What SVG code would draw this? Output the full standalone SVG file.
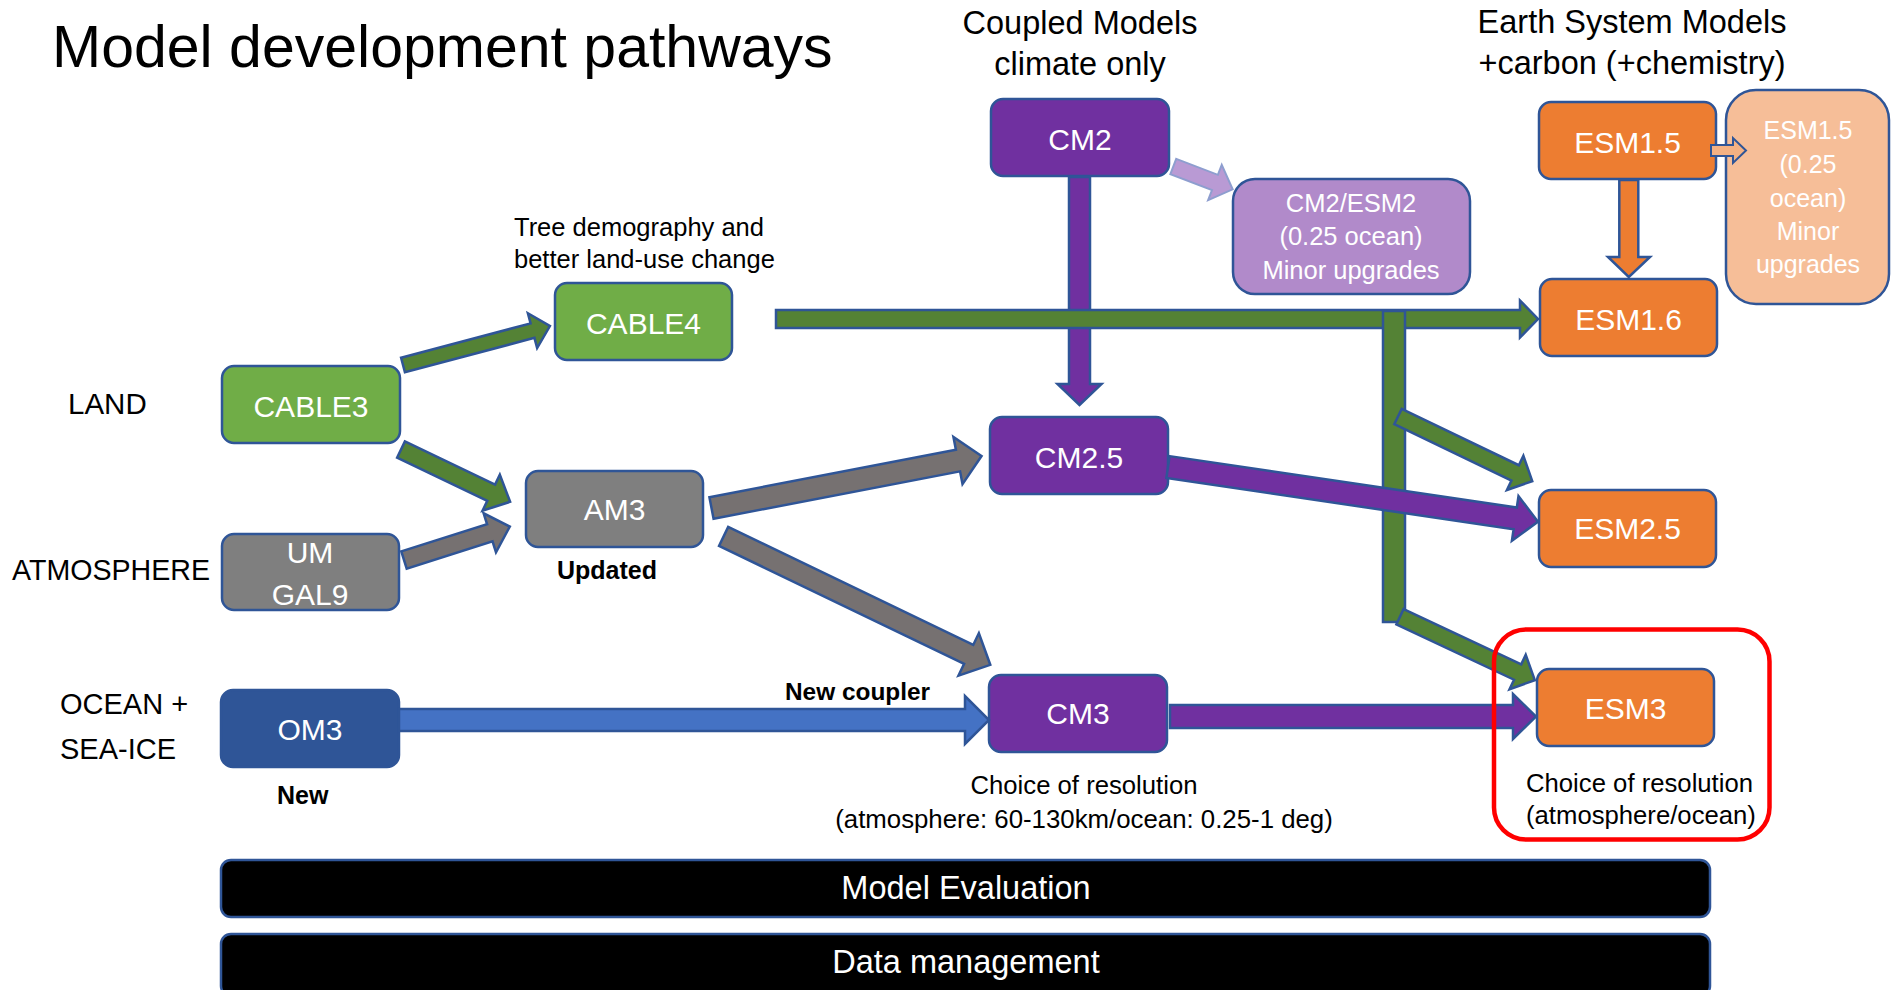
<svg xmlns="http://www.w3.org/2000/svg" width="1891" height="990" viewBox="0 0 1891 990">
<style>
text{font-family:"Liberation Sans",Arial,sans-serif}
.box{stroke:#2F5597;stroke-width:2.5}
.g{fill:#70AD47}.gr{fill:#7F7F7F}.pu{fill:#7030A0}.or{fill:#ED7D31}.bl{fill:#2F5597}
.lp{fill:#B18ACA}.lo{fill:#F6BE98}.bk{fill:#000}
.nt{fill:#fff;font-size:30px;text-anchor:middle}
.st{fill:#fff;font-size:25.5px;text-anchor:middle}
.lab{fill:#000;font-size:29px}
.sm{fill:#000;font-size:25.7px}
.b{font-weight:bold;fill:#000;font-size:25px}
.hd{fill:#000;font-size:32.5px;text-anchor:middle}
.ar{stroke:#2F5597;stroke-width:2.5;stroke-linejoin:miter}
.ag{fill:#548235}.agr{fill:#767171}.apu{fill:#7030A0}.abl{fill:#4472C4}.aor{fill:#ED7D31}
</style>
<rect width="1891" height="990" fill="#fff"/>
<text x="52" y="67" font-size="59" fill="#000">Model development pathways</text>
<text class="hd" x="1080" y="34">Coupled Models</text>
<text class="hd" x="1080" y="75">climate only</text>
<text class="hd" x="1632" y="33">Earth System Models</text>
<text class="hd" x="1632" y="74">+carbon (+chemistry)</text>
<text class="sm" x="514" y="236" style="font-size:25.5px">Tree demography and</text>
<text class="sm" x="514" y="268" style="font-size:25.5px">better land-use change</text>
<text class="lab" x="68" y="414" style="font-size:29.5px">LAND</text>
<text class="lab" x="12" y="580" style="font-size:28.6px">ATMOSPHERE</text>
<text class="lab" x="60" y="714">OCEAN +</text>
<text class="lab" x="60" y="759">SEA-ICE</text>
<text class="b" x="557" y="579">Updated</text>
<text class="b" x="277" y="804">New</text>
<text class="b" x="785" y="700" style="font-size:24.4px">New coupler</text>
<text class="sm" x="1084" y="794" text-anchor="middle">Choice of resolution</text>
<text class="sm" x="1084" y="828" text-anchor="middle" style="font-size:25.8px">(atmosphere: 60-130km/ocean: 0.25-1 deg)</text>
<text class="sm" x="1526" y="792">Choice of resolution</text>
<text class="sm" x="1526" y="824">(atmosphere/ocean)</text>

<g id="CABLE3"><rect class="box g" x="222" y="366" width="178" height="77" rx="12"/><text class="nt" x="311" y="417">CABLE3</text></g>
<g id="CABLE4"><rect class="box g" x="555" y="283" width="177" height="77" rx="12"/><text class="nt" x="643.5" y="333.5">CABLE4</text></g>
<g id="AM3"><rect class="box gr" x="526" y="471" width="177" height="76" rx="12"/><text class="nt" x="614.5" y="520">AM3</text></g>
<g id="UMGAL9"><rect class="box gr" x="222" y="534" width="177" height="76" rx="12"/><text class="nt" x="310" y="563">UM</text><text class="nt" x="310" y="605">GAL9</text></g>
<g id="OM3"><rect class="box bl" x="221" y="690" width="178" height="77" rx="12"/><text class="nt" x="310" y="740">OM3</text></g>
<g id="CM2"><rect class="box pu" x="991" y="99" width="178" height="77" rx="12"/><text class="nt" x="1080" y="149.5">CM2</text></g>
<g id="CM2ESM2"><rect class="box lp" x="1233" y="179" width="237" height="115" rx="22"/><text class="st" x="1351" y="212">CM2/ESM2</text><text class="st" x="1351" y="245">(0.25 ocean)</text><text class="st" x="1351" y="279">Minor upgrades</text></g>
<g id="CM25"><rect class="box pu" x="990" y="417" width="178" height="77" rx="12"/><text class="nt" x="1079" y="467.5">CM2.5</text></g>
<g id="CM3"><rect class="box pu" x="989" y="675" width="178" height="77" rx="12"/><text class="nt" x="1078" y="724">CM3</text></g>
<g id="ESM15"><rect class="box or" x="1539" y="102" width="177" height="77" rx="12"/><text class="nt" x="1627.5" y="152.5">ESM1.5</text></g>
<g id="ESM15q"><rect class="box lo" x="1726" y="90" width="163" height="214" rx="30"/><text class="st" x="1808" y="139" style="font-size:25px">ESM1.5</text><text class="st" x="1808" y="173" style="font-size:25px">(0.25</text><text class="st" x="1808" y="207" style="font-size:25px">ocean)</text><text class="st" x="1808" y="240" style="font-size:25px">Minor</text><text class="st" x="1808" y="273" style="font-size:25px">upgrades</text></g>
<g id="ESM16"><rect class="box or" x="1540" y="279" width="177" height="77" rx="12"/><text class="nt" x="1628.5" y="329.5">ESM1.6</text></g>
<g id="ESM25"><rect class="box or" x="1539" y="490" width="177" height="77" rx="12"/><text class="nt" x="1627.5" y="539">ESM2.5</text></g>
<g id="ESM3"><rect class="box or" x="1537" y="669" width="177" height="77" rx="12"/><text class="nt" x="1625.5" y="718.5">ESM3</text></g>
<g id="ModelEvaluation"><rect class="box bk" x="221" y="860" width="1489" height="57" rx="10"/><text class="nt" x="966" y="899" style="font-size:32.5px">Model Evaluation</text></g>
<g id="DataManagement"><rect class="box bk" x="221" y="934" width="1489" height="62" rx="10"/><text class="nt" x="966" y="973" style="font-size:32.5px">Data management</text></g>

<g id="connectors">
<path class="ar ag" transform="translate(403,365) rotate(-14.86)" d="M0,-7.5 L134,-7.5 L134,-18 L152,0 L134,18 L134,7.5 L0,7.5 Z"/>
<path class="ar ag" transform="translate(401,449.5) rotate(25.6)" d="M0,-9 L100,-9 L100,-20 L121,0 L100,20 L100,9 L0,9 Z"/>
<path class="ar agr" transform="translate(404,560) rotate(-17.56)" d="M0,-9 L90,-9 L90,-20.5 L111,0 L90,20.5 L90,9 L0,9 Z"/>
<path class="ar agr" transform="translate(711.5,508) rotate(-10.89)" d="M0,-11 L251,-11 L251,-24 L275,0 L251,24 L251,11 L0,11 Z"/>
<path class="ar agr" transform="translate(723.6,536.4) rotate(25.71)" d="M0,-10.5 L272,-10.5 L272,-23.5 L296,0 L272,23.5 L272,10.5 L0,10.5 Z"/>
<path class="ar apu" d="M1069,177 L1090,177 L1090,384 L1101.5,384 L1079.5,405 L1057.5,384 L1069,384 Z"/>
<path class="ar ag" d="M776,310 L1520,310 L1520,300.5 L1538,319 L1520,337.5 L1520,328 L776,328 Z"/>
<rect class="ar ag" x="1383" y="311" width="22" height="311"/>
<path class="ar ag" transform="translate(1398,416.5) rotate(25.7)" d="M0,-8.5 L130,-8.5 L130,-19 L149,0 L130,19 L130,8.5 L0,8.5 Z"/>
<path class="ar ag" transform="translate(1400,616.7) rotate(25.2)" d="M0,-8.5 L130,-8.5 L130,-19 L149,0 L130,19 L130,8.5 L0,8.5 Z"/>
<path class="ar apu" transform="translate(1168,467) rotate(8.42)" d="M0,-11 L351,-11 L351,-22.5 L374,0 L351,22.5 L351,11 L0,11 Z"/>
<path class="ar abl" d="M399,709 L965,709 L965,696 L989,720 L965,744 L965,731 L399,731 Z"/>
<path class="ar apu" d="M1170,705 L1513,705 L1513,694 L1536,716.5 L1513,739 L1513,728 L1170,728 Z"/>
<path class="ar aor" d="M1619.3,180 L1638.3,180 L1638.3,257 L1650,257 L1628.8,277 L1608,257 L1619.3,257 Z"/>
<path d="M1711,145 L1733,145 L1733,138 L1746,150.5 L1733,163 L1733,156 L1711,156 Z" fill="#F4B183" stroke="#2F5597" stroke-width="2"/>
<path transform="translate(1173.3,166.5) rotate(21)" d="M0,-8.2 L44.6,-8.2 L44.6,-19 L63.6,0 L44.6,19 L44.6,8.2 L0,8.2 Z" fill="#B99AD4" stroke="#8E9ECF" stroke-width="2"/>
</g>
<rect id="highlight" x="1494" y="629.5" width="275.5" height="210" rx="32" fill="none" stroke="#FF0000" stroke-width="4.5"/>
</svg>
